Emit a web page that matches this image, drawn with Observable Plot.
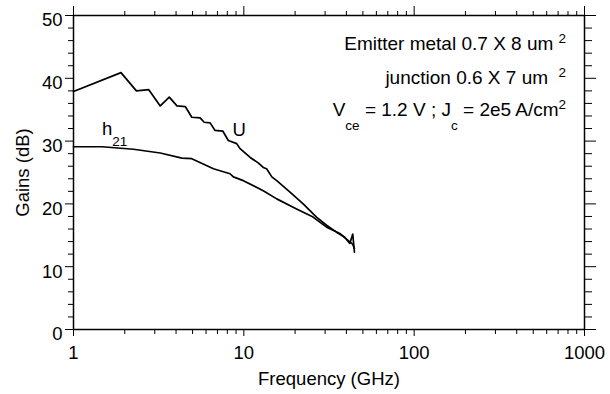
<!DOCTYPE html>
<html><head><meta charset="utf-8">
<script src="https://cdn.jsdelivr.net/npm/d3@7"></script>
<script src="https://cdn.jsdelivr.net/npm/@observablehq/plot@0.6"></script>
<style>
html,body{margin:0;padding:0;background:#fff;}
</style>
</head><body><div id="chart"></div>
<script>
// Unilateral gain U
const freqU = [1, 1.90, 2.34, 2.76, 3.23, 3.65, 4.05, 4.53, 4.95, 5.54, 5.85, 6.34, 6.78, 7.52, 8.11, 9.08, 9.50, 10.9, 12.2, 13.0, 13.6, 14.6, 15.6, 18.6, 22.3, 26.7, 30.6, 35.0, 39.1, 41.9, 43.6, 44.6];
const gainU = [37.9, 40.9, 38.0, 38.2, 35.6, 37.0, 35.6, 35.5, 33.8, 33.7, 33.0, 32.9, 31.7, 31.6, 30.1, 29.6, 28.8, 27.4, 26.5, 25.8, 25.6, 24.3, 23.7, 21.9, 20.0, 17.9, 16.6, 15.5, 14.7, 13.7, 15.2, 12.3];
// Current gain h21
const freqH = [1, 1.47, 2.25, 3.23, 4.33, 4.95, 6.63, 8.30, 8.68, 9.94, 13.0, 15.6, 20.4, 25.5, 30.6, 36.6, 40.9, 43.5, 44.6];
const gainH = [29.1, 29.1, 28.7, 28.1, 27.3, 27.2, 25.6, 24.8, 24.3, 23.7, 22.1, 20.8, 19.2, 17.9, 16.3, 15.3, 14.2, 13.6, 12.9];

const xMajor = [1, 10, 100, 1000];
const xMinor = [2,3,4,5,6,7,8,9,20,30,40,50,60,70,80,90,200,300,400,500,600,700,800,900];
const yMajor = [0, 10, 20, 30, 40, 50];
const yMinor = [2,4,6,8,12,14,16,18,22,24,26,28,32,34,36,38,42,44,46,48];

const noteText = ["Emitter metal 0.7 X 8 um {^2}", "junction 0.6 X 7 um\u00a0 {^2}", "V{_ce} = 1.2 V ; J{_c} = 2e5 A/cm{^2}"];
const noteX = [780, 780, 780];
const noteY = [45.4, 40.1, 35.0];

const curveLabel = ["U", "h{_21}"];
const curveLabelX = [8.58, 1.47];
const curveLabelY = [31.8, 31.97];

const U = freqU.map((f, i) => ({f, g: gainU[i]}));
const H = freqH.map((f, i) => ({f, g: gainH[i]}));
const notes = noteText.map((t, i) => ({t, x: noteX[i], y: noteY[i]}));
const labels = curveLabel.map((t, i) => ({t, x: curveLabelX[i], y: curveLabelY[i]}));

const blank = () => "";
const plot = Plot.plot({
  width: 610, height: 394,
  marginLeft: 73, marginRight: 26, marginTop: 15, marginBottom: 65,
  style: {fontFamily: "'Liberation Sans', Arial, sans-serif", fontSize: "18.5px", color: "#000", background: "#fff"},
  x: {type: "log", domain: [1, 1000]},
  y: {domain: [0, 50]},
  marks: [
    Plot.frame({stroke: "#000", strokeWidth: 1.5}),
    Plot.axisX(xMajor, {anchor: "bottom", tickSize: 7, tickPadding: 9, tickFormat: d => String(d), label: "Frequency (GHz)", labelAnchor: "center", labelOffset: 55, labelArrow: "none"}),
    Plot.axisX(xMinor, {anchor: "bottom", tickSize: 5, tickFormat: blank, label: null}),
    Plot.axisX(xMajor, {anchor: "top", tickSize: 10, tickFormat: blank, label: null}),
    Plot.axisX(xMinor, {anchor: "top", tickSize: 5, tickFormat: blank, label: null}),
    Plot.axisY(yMajor, {anchor: "left", tickSize: 8, tickFormat: blank, label: null}),
    Plot.axisY(yMinor, {anchor: "left", tickSize: 5, tickFormat: blank, label: null}),
    Plot.axisY(yMajor, {anchor: "left", tickSize: 0, tickPadding: 11, dy: 5, label: "Gains (dB)", labelAnchor: "center", labelOffset: 58, labelArrow: "none"}),
    Plot.axisY(yMajor, {anchor: "right", tickSize: 11, tickFormat: blank, label: null}),
    Plot.axisY(yMinor, {anchor: "right", tickSize: 7, tickFormat: blank, label: null}),
    Plot.line(U, {x: "f", y: "g", stroke: "#000", strokeWidth: 1.7}),
    Plot.line(H, {x: "f", y: "g", stroke: "#000", strokeWidth: 1.7}),
    Plot.text(notes, {x: "x", y: "y", text: "t", textAnchor: "end", fill: "#000", fontSize: 19, className: "notes"}),
    Plot.text(labels, {x: "x", y: "y", text: "t", textAnchor: "start", fill: "#000", className: "curvelabels"})
  ]
});

function richify(svg) {
  svg.querySelectorAll("text").forEach(t => {
    const s = t.textContent;
    if (!s.includes("{")) return;
    const inNotes = !!t.closest(".notes");
    const SUB = inNotes ? 14 : 11;
    const SUP = 7;
    const parts = s.split(/(\{[_^][^}]*\})/).filter(p => p.length);
    while (t.firstChild) t.removeChild(t.firstChild);
    let shift = 0;
    for (const p of parts) {
      const ts = document.createElementNS("http://www.w3.org/2000/svg", "tspan");
      let target = 0, txt = p, small = false;
      const m = p.match(/^\{([_^])(.*)\}$/);
      if (m) { target = m[1] === "_" ? SUB : -SUP; txt = m[2]; small = true; }
      if (target - shift !== 0) ts.setAttribute("dy", target - shift);
      shift = target;
      if (small) ts.setAttribute("font-size", 13.5);
      ts.textContent = txt;
      t.appendChild(ts);
    }
  });
}
richify(plot);
document.getElementById("chart").appendChild(plot);
</script>
</body></html>
